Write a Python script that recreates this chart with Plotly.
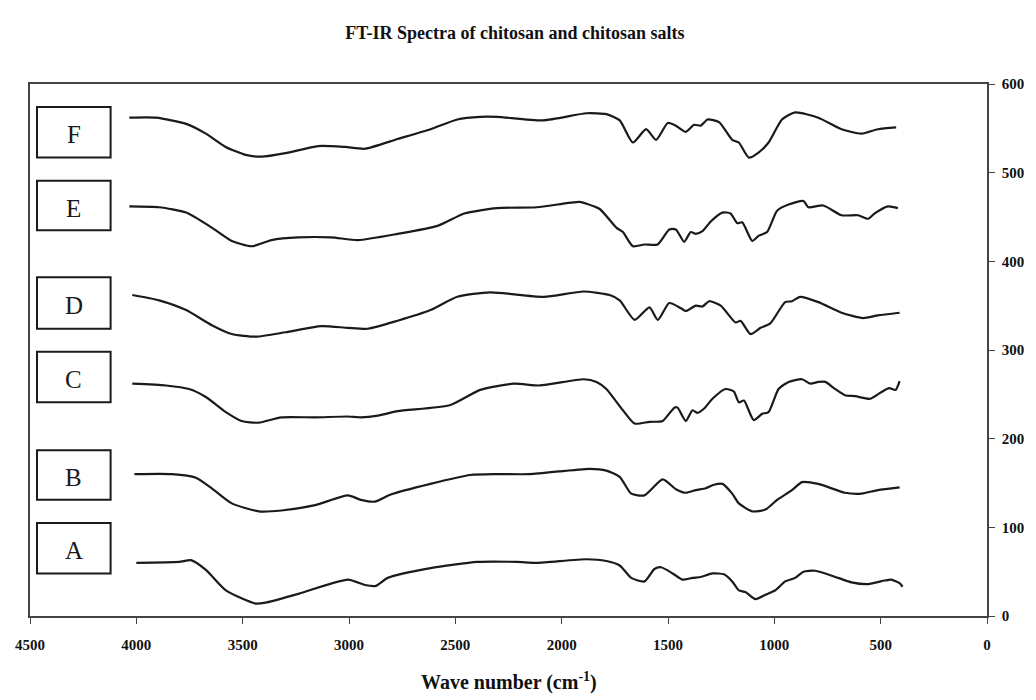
import plotly.graph_objects as go

# ---- data (wave number cm^-1, offset transmittance) ----
wn_F = [4033, 3907, 3766, 3673, 3580, 3486, 3411, 3299, 3145, 3019, 2925, 2771, 2617, 2491, 2383, 2304, 2086,
        1883, 1790, 1727, 1665, 1603, 1556, 1501, 1463, 1416, 1377, 1346, 1314, 1260, 1198, 1167, 1120, 1073,
        1027, 964, 902, 793, 684, 590, 513, 427]
val_F = [562, 562, 555, 544, 529, 520, 518, 522, 530, 529, 527, 538, 549, 560, 563, 563, 559,
         567, 566, 559, 534, 549, 537, 556, 553, 546, 554, 553, 560, 557, 537, 534, 517, 523,
         534, 560, 568, 562, 549, 544, 549, 551]

wn_E = [4033, 3893, 3766, 3645, 3551, 3458, 3364, 3238, 3084, 2958, 2771, 2584, 2458, 2304, 2117, 1916, 1883,
        1821, 1743, 1712, 1665, 1611, 1549, 1494, 1463, 1424, 1393, 1369, 1338, 1299, 1244, 1206, 1174, 1151,
        1104, 1073, 1034, 987, 933, 863, 840, 770, 684, 606, 559, 528, 466, 419]
val_E = [462, 461, 455, 438, 423, 417, 424, 427, 427, 424, 431, 440, 454, 460, 461, 467, 465,
         459, 438, 433, 417, 419, 419, 436, 436, 422, 433, 431, 434, 445, 455, 454, 443, 444,
         423, 429, 433, 457, 464, 468, 461, 463, 452, 452, 448, 454, 462, 460]

wn_D = [4019, 3893, 3766, 3645, 3551, 3439, 3299, 3131, 3005, 2911, 2771, 2617, 2491, 2336, 2084, 1897,
        1774, 1727, 1657, 1587, 1548, 1494, 1439, 1416, 1369, 1338, 1307, 1252, 1182, 1159, 1112, 1065,
        1019, 949, 917, 879, 793, 684, 583, 513, 411]
val_D = [362, 356, 345, 328, 318, 315, 320, 327, 325, 324, 333, 345, 360, 365, 360, 366,
         362, 356, 334, 348, 334, 353, 347, 344, 350, 349, 355, 350, 331, 333, 318, 325,
         330, 354, 355, 360, 354, 342, 336, 339, 342]

wn_C = [4019, 3860, 3752, 3673, 3579, 3505, 3425, 3318, 3159, 3005, 2944, 2864, 2771, 2523, 2383, 2224,
        2103, 1897, 1836, 1790, 1712, 1657, 1587, 1525, 1470, 1455, 1416, 1385, 1361, 1330, 1291, 1229,
        1190, 1167, 1143, 1097, 1057, 1027, 980, 933, 870, 830, 793, 760, 720, 668, 620, 550, 500, 460,
        430, 411]
val_C = [262, 260, 256, 247, 230, 220, 218, 224, 224, 225, 224, 226, 231, 238, 255, 262,
         260, 267, 264, 256, 232, 217, 219, 220, 235, 235, 220, 232, 229, 234, 245, 256,
         253, 241, 243, 221, 228, 230, 256, 264, 267, 262, 264, 264, 257, 249, 248, 245, 252, 257,
         255, 265]

wn_B = [4009, 3832, 3720, 3645, 3551, 3425, 3318, 3159, 3005, 2944, 2879, 2804, 2617, 2430, 2304, 2150,
        1869, 1790, 1727, 1673, 1611, 1525, 1463, 1416, 1369, 1322, 1284, 1244, 1198, 1167, 1104, 1042,
        987, 917, 870, 793, 668, 590, 513, 411]
val_B = [160, 160, 156, 144, 127, 118, 119, 125, 136, 131, 129, 137, 149, 159, 160, 160,
         166, 164, 157, 138, 136, 154, 143, 139, 142, 144, 148, 149, 138, 127, 118, 120,
         131, 142, 151, 149, 139, 138, 142, 145]

wn_A = [4000, 3799, 3743, 3673, 3579, 3439, 3393, 3238, 3005, 2925, 2874, 2818, 2617, 2397, 2210, 2117,
        1883, 1790, 1727, 1673, 1611, 1564, 1533, 1478, 1431, 1385, 1346, 1291, 1237, 1198, 1167, 1136,
        1089, 1042, 995, 949, 902, 863, 808, 700, 637, 559, 481, 450, 411, 397]
val_A = [60, 61, 63, 52, 29, 14, 15, 25, 41, 35, 34, 43, 54, 61, 61, 60,
         64, 62, 57, 43, 39, 53, 55, 48, 41, 43, 44, 48, 47, 39, 29, 27,
         19, 24, 29, 39, 43, 50, 51, 43, 38, 36, 40, 41, 37, 33]

labels = ["A", "B", "C", "D", "E", "F"]
box_top = [105, 187, 298, 382, 491, 574]
box_bottom = [48, 131, 241, 324, 435, 517]
box_left_wn = 4467
box_right_wn = 4121

x_ticks = [4500, 4000, 3500, 3000, 2500, 2000, 1500, 1000, 500, 0]
y_ticks = [0, 100, 200, 300, 400, 500, 600]

series = [(wn_A, val_A), (wn_B, val_B), (wn_C, val_C), (wn_D, val_D), (wn_E, val_E), (wn_F, val_F)]

fig = go.Figure()
for (xs, ys), name in zip(series, labels):
    fig.add_trace(go.Scatter(x=xs, y=ys, mode="lines", name=name,
                             line=dict(color="#1a1a1a", width=2.2, shape="spline", smoothing=0.6),
                             showlegend=False))

serif = "Liberation Serif, Times New Roman, serif"
for name, t, b in zip(labels, box_top, box_bottom):
    fig.add_shape(type="rect", xref="x", yref="y", x0=box_left_wn, x1=box_right_wn, y0=b, y1=t,
                  line=dict(color="#1a1a1a", width=2), fillcolor="white")
    fig.add_annotation(x=(box_left_wn + box_right_wn) / 2, y=(t + b) / 2 - 3, xref="x", yref="y",
                       text=name, showarrow=False, font=dict(family=serif, size=25, color="#1a1a1a"))

fig.add_annotation(text="<b>Wave number (cm<sup>-1</sup>)</b>", xref="paper", yref="paper",
                   x=0.5, y=-0.124, yanchor="middle", showarrow=False,
                   font=dict(family=serif, size=20, color="#111"))

fig.update_layout(
    width=1036, height=700,
    margin=dict(l=30, r=43, t=84, b=84),
    paper_bgcolor="white", plot_bgcolor="white",
    title=dict(text="<b>FT-IR Spectra of chitosan and chitosan salts</b>", x=0.497, xanchor="center",
               y=1 - 33 / 700, yanchor="middle", yref="container",
               font=dict(family=serif, size=18, color="#111")),
    xaxis=dict(range=[4500, 0], tickvals=x_ticks, ticks="outside", ticklen=6, tickcolor="#444",
               showline=True, linecolor="#444", linewidth=1.5, mirror=True, showgrid=False, zeroline=False,
               tickfont=dict(family=serif, size=15, color="#111", weight="bold"), ticklabelstandoff=8),
    yaxis=dict(range=[0, 600], tickvals=y_ticks, side="right", ticks="outside", ticklen=6, tickcolor="#444",
               showline=True, linecolor="#444", linewidth=1.5, mirror=True, showgrid=False, zeroline=False,
               tickfont=dict(family=serif, size=15, color="#111", weight="bold"), ticklabelstandoff=4),
)

fig.write_html("out.html")
